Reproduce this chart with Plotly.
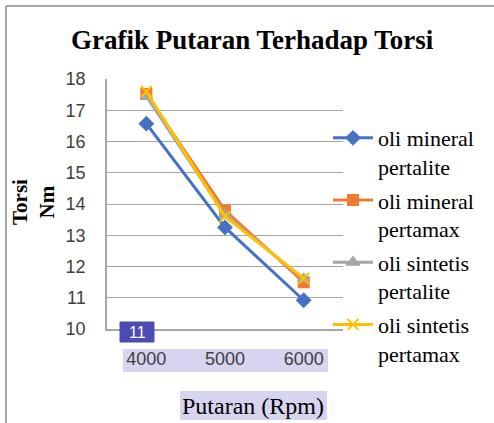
import plotly.graph_objects as go

rpm = ["4000", "5000", "6000"]
mineral_pertalite = [16.57, 13.25, 10.92]
mineral_pertamax = [17.52, 13.80, 11.50]
sintetis_pertalite = [17.45, 13.65, 11.60]
sintetis_pertamax = [17.60, 13.60, 11.62]
y_ticks = [10, 11, 12, 13, 14, 15, 16, 17, 18]

W, H = 494, 423
L, R, T, B = 107, 343, 79, 329


def px(x):
    return (x - L) / (R - L)


def py(y):
    return (B - y) / (B - T)


serif = "Liberation Serif, Times New Roman, serif"
sans = "Liberation Sans, Arial, sans-serif"

series = [
    ("oli mineral<br>pertalite", mineral_pertalite, "#4472C4", "diamond", 10),
    ("oli mineral<br>pertamax", mineral_pertamax, "#ED7D31", "square", 10),
    ("oli sintetis<br>pertalite", sintetis_pertalite, "#A5A5A5", "triangle-up", 10),
    ("oli sintetis<br>pertamax", sintetis_pertamax, "#FFC000", "x-thin-open", 11),
]

fig = go.Figure()
for i, (name, vals, col, sym, sz) in enumerate(series):
    fig.add_trace(go.Scatter(
        x=rpm, y=vals, name=name, mode="lines+markers", legendgroup=f"g{i}",
        line=dict(color=col, width=3),
        marker=dict(symbol=sym, size=sz, color=col, line=dict(color=col, width=2)),
    ))

shapes = [
    dict(type="line", xref="paper", yref="paper", x0=px(6), x1=px(494), y0=py(6), y1=py(6),
         line=dict(color="#A6A6A6", width=2)),
    dict(type="line", xref="paper", yref="paper", x0=px(6), x1=px(6), y0=py(6), y1=py(423),
         line=dict(color="#A6A6A6", width=2)),
    dict(type="rect", xref="paper", yref="paper", layer="below", x0=px(123), x1=px(328),
         y0=py(349), y1=py(372), fillcolor="#D6D4EE", line=dict(width=0)),
    dict(type="rect", xref="paper", yref="paper", layer="below", x0=px(180), x1=px(327),
         y0=py(391), y1=py(420), fillcolor="#D6D4EE", line=dict(width=0)),
    dict(type="rect", xref="paper", yref="paper", layer="above", x0=px(120), x1=px(154),
         y0=py(322), y1=py(342), fillcolor="#4B4BB3", line=dict(color="#4B4BB3", width=1)),
]

annotations = [
    dict(text="<b>Grafik Putaran Terhadap Torsi</b>", xref="paper", yref="paper",
         x=px(252), y=py(40), showarrow=False, font=dict(family=serif, size=27, color="#000000"),
         xanchor="center", yanchor="middle"),
    dict(text="<b>Torsi<br>Nm</b>", xref="paper", yref="paper", x=px(33), y=py(202),
         showarrow=False, textangle=-90, font=dict(family=serif, size=21, color="#000000"),
         xanchor="center", yanchor="middle"),
    dict(text="Putaran (Rpm)", xref="paper", yref="paper", x=px(253), y=py(406),
         showarrow=False, font=dict(family=serif, size=24, color="#000000"),
         xanchor="center", yanchor="middle"),
    dict(text="11", xref="paper", yref="paper", x=px(137), y=py(332),
         showarrow=False, font=dict(family=sans, size=16, color="#FFFFFF"),
         xanchor="center", yanchor="middle"),
]

fig.update_layout(
    width=W, height=H,
    margin=dict(l=L, r=W - R, t=T, b=H - B, pad=0),
    paper_bgcolor="#FFFFFF", plot_bgcolor="#FFFFFF",
    showlegend=True,
    legend=dict(x=px(328), y=py(117), xanchor="left", yanchor="top", valign="top",
                font=dict(family=serif, size=22, color="#000000"),
                bgcolor="rgba(0,0,0,0)", itemwidth=40, tracegroupgap=2, maxheight=400),
    shapes=shapes, annotations=annotations,
    xaxis=dict(type="category", range=[-0.5, 2.5], showgrid=False, showline=True,
               linecolor="#A6A6A6", linewidth=1.5, ticks="", ticklabelstandoff=13,
               tickfont=dict(family=sans, size=18, color="#404040"), fixedrange=True),
    yaxis=dict(range=[10, 18], tickvals=y_ticks, showgrid=True, gridcolor="#A6A6A6",
               gridwidth=1.2, showline=True, linecolor="#A6A6A6", linewidth=1.5,
               zeroline=False, ticks="", ticklabelstandoff=16,
               tickfont=dict(family=sans, size=18, color="#404040"), fixedrange=True),
)

fig.write_html("out.html", config={"displayModeBar": False},
               post_script="document.body.style.margin='0';")
